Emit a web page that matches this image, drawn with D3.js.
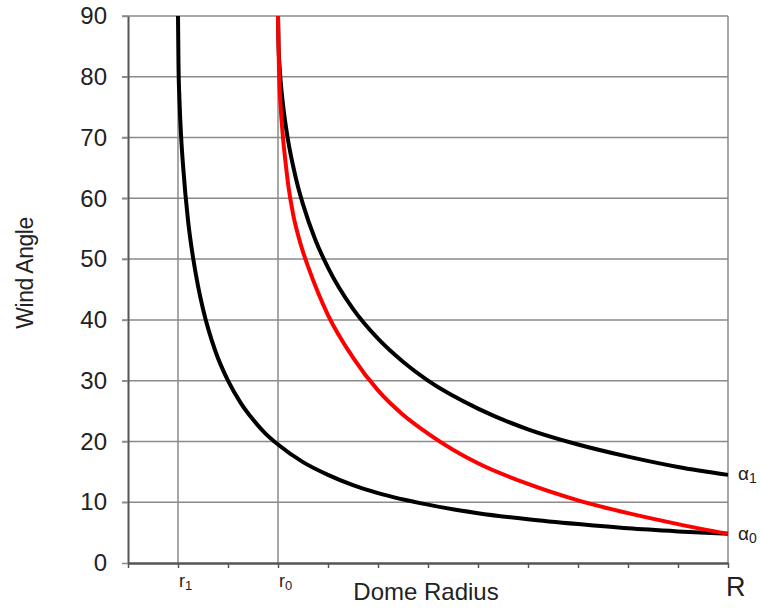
<!DOCTYPE html>
<html>
<head>
<meta charset="utf-8">
<script src="https://cdn.jsdelivr.net/npm/d3@7"></script>
<style>
  html, body { margin: 0; padding: 0; background: #fff; }
  svg { display: block; }
  text { font-family: "Liberation Sans", Arial, sans-serif; fill: #222; }
</style>
</head>
<body>
<svg id="chart" width="761" height="608"></svg>
<script>
// Wind angle versus dome radius (radius in arbitrary units, R = 12)
const yTicks = [0, 10, 20, 30, 40, 50, 60, 70, 80, 90];
const xTicks = [0, 1, 2, 3, 4, 5, 6, 7, 8, 9, 10, 11, 12];
const radiusMarks = [
  { r: 1, name: "r", sub: "1" },
  { r: 3, name: "r", sub: "0" }
];
const domeEdge = 12;

// Lower black curve, starting at r1
const innerRadius = [1.0, 1.01, 1.03, 1.06, 1.1, 1.2, 1.3, 1.4, 1.5, 1.75, 2.0, 2.25, 2.5, 2.75, 3.0, 3.5, 4.0, 4.5, 5.0, 6.0, 7.0, 8.0, 9.0, 10.0, 11.0, 12.0];
const innerAngle  = [90, 82, 76, 70.5, 65.5, 56.4, 50.3, 45.6, 41.8, 34.8, 30.0, 26.4, 23.6, 21.3, 19.5, 16.6, 14.5, 12.8, 11.5, 9.6, 8.2, 7.2, 6.4, 5.7, 5.2, 4.8];

// Upper black curve, starting at r0 and ending at alpha1
const outerRadius = [3.0, 3.01, 3.03, 3.06, 3.1, 3.2, 3.3, 3.4, 3.5, 3.75, 4.0, 4.5, 5.0, 5.5, 6.0, 7.0, 8.0, 9.0, 10.0, 11.0, 12.0];
const outerAngle  = [90, 85.3, 81.9, 78.6, 75.4, 69.6, 65.4, 61.9, 59.0, 53.1, 48.6, 41.8, 36.9, 33.1, 30.0, 25.4, 22.0, 19.5, 17.5, 15.8, 14.5];

// Red curve, starting at r0 and ending at alpha0
const redRadius = [3.0, 3.02, 3.05, 3.1, 3.15, 3.2, 3.3, 3.4, 3.5, 3.6, 3.8, 4.0, 4.5, 5.0, 5.5, 6.0, 7.0, 8.0, 9.0, 10.0, 11.0, 12.0];
const redAngle  = [90, 81, 75.5, 70, 66, 62.5, 57.5, 54, 51.2, 48.8, 44.5, 40.8, 33.8, 28.4, 24.4, 21.3, 16.4, 13.0, 10.3, 8.2, 6.4, 4.8];

const svg = d3.select("#chart");
const x = d3.scaleLinear().domain([0, 12]).range([128, 728]);
const y = d3.scaleLinear().domain([0, 90]).range([563, 16]);

const gridColor = "#8a8a8a";
const axisColor = "#555";

// Horizontal grid lines
svg.append("g")
  .selectAll("line")
  .data(yTicks.filter(d => d > 0))
  .join("line")
  .attr("x1", x(0) - 6).attr("x2", x(12))
  .attr("y1", d => y(d)).attr("y2", d => y(d))
  .attr("stroke", gridColor).attr("stroke-width", 1.5);

// Vertical lines at r1, r0 and the dome edge
svg.append("g")
  .selectAll("line")
  .data(radiusMarks.map(d => d.r).concat([domeEdge]))
  .join("line")
  .attr("x1", d => x(d)).attr("x2", d => x(d))
  .attr("y1", y(0)).attr("y2", y(90))
  .attr("stroke", gridColor).attr("stroke-width", 1.5);

// Y axis
const yAxis = svg.append("g")
  .attr("transform", `translate(${x(0)},0)`)
  .call(d3.axisLeft(y).tickValues(yTicks).tickSize(6).tickPadding(15).tickSizeOuter(0));
yAxis.select(".domain").attr("stroke", axisColor).attr("stroke-width", 2);
yAxis.selectAll(".tick line").attr("stroke", gridColor).attr("stroke-width", 1.5);
yAxis.selectAll(".tick text")
  .attr("font-size", 24).attr("font-family", "Liberation Sans, Arial, sans-serif")
  .attr("fill", "#222");

// X axis
const xAxis = svg.append("g")
  .attr("transform", `translate(0,${y(0)})`)
  .call(d3.axisBottom(x).tickValues(xTicks).tickSize(5).tickFormat("").tickSizeOuter(0));
xAxis.select(".domain").attr("stroke", axisColor).attr("stroke-width", 2.5);
xAxis.selectAll(".tick line").attr("stroke", axisColor).attr("stroke-width", 1.5);

// Radius labels
const rl = svg.append("g").selectAll("text")
  .data(radiusMarks)
  .join("text")
  .attr("x", d => x(d.r) + 1)
  .attr("y", 587)
  .attr("font-family", "Calibri, Carlito, 'Liberation Sans', sans-serif")
  .attr("font-size", 18)
  .attr("fill", "#2a3050");
rl.append("tspan").text(d => d.name);
rl.append("tspan").attr("font-size", 13).attr("dy", 3).text(d => d.sub);

svg.append("text")
  .attr("x", x(domeEdge) - 2).attr("y", 596)
  .attr("font-size", 27).attr("fill", "#222")
  .text("R");

// Axis titles
svg.append("text")
  .attr("x", 426).attr("y", 600)
  .attr("text-anchor", "middle")
  .attr("font-size", 24)
  .text("Dome Radius");

svg.append("text")
  .attr("transform", "translate(33,273) rotate(-90)")
  .attr("text-anchor", "middle")
  .attr("font-size", 23)
  .attr("letter-spacing", -0.5)
  .text("Wind Angle");

// Curves
const line = d3.line()
  .x(d => x(d[0]))
  .y(d => y(d[1]))
  .curve(d3.curveMonotoneX);

const series = [
  { r: innerRadius, a: innerAngle, color: "#000" },
  { r: outerRadius, a: outerAngle, color: "#000" },
  { r: redRadius, a: redAngle, color: "#ff0000" }
];

svg.append("g")
  .selectAll("path")
  .data(series)
  .join("path")
  .attr("d", s => line(s.r.map((v, i) => [v, s.a[i]])))
  .attr("fill", "none")
  .attr("stroke", s => s.color)
  .attr("stroke-width", 4)
  .attr("stroke-linejoin", "round");

// End labels for the angle curves
const endLabels = [
  { a: outerAngle[outerAngle.length - 1], sub: "1", dy: 5 },
  { a: redAngle[redAngle.length - 1], sub: "0", dy: 6 }
];
const el = svg.append("g").selectAll("text")
  .data(endLabels)
  .join("text")
  .attr("x", 738)
  .attr("y", d => y(d.a) + d.dy)
  .attr("font-size", 19)
  .attr("fill", "#222");
el.append("tspan").text("α");
el.append("tspan").attr("font-size", 14).attr("dy", 3).text(d => d.sub);
</script>
</body>
</html>
